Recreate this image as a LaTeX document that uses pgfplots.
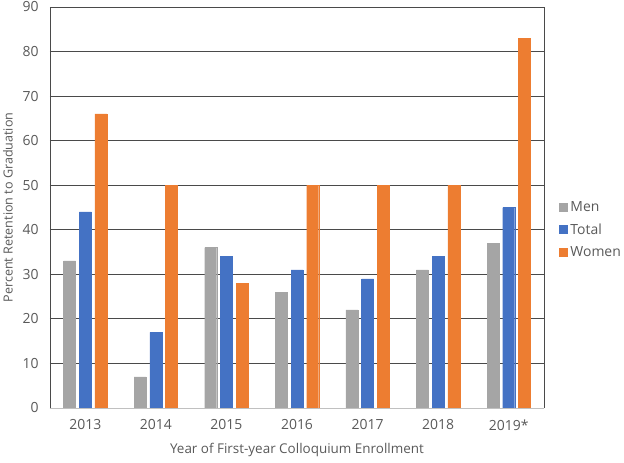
\documentclass[border=0pt]{standalone}
\usepackage{pgfplots}
\pgfplotsset{compat=1.18}
\usepackage{fontspec}
\setmainfont{Open Sans}
\definecolor{cmen}{HTML}{A5A5A5}
\definecolor{ctot}{HTML}{4472C4}
\definecolor{cwom}{HTML}{ED7D31}
\definecolor{ctxt}{HTML}{595959}
\definecolor{cgrid}{HTML}{4A4A4A}
\begin{document}
\begin{tikzpicture}
\begin{axis}[
  at={(0,0)}, anchor=south west,
  scale only axis, width=494bp, height=401bp,
  ybar=3.7bp, bar width=12bp,
  xmin=-0.5, xmax=6.5, ymin=0, ymax=90,
  xtick=data, xticklabels={2013,2014,2015,2016,2017,2018,2019*},
  ytick={0,10,...,90},
  major tick length=0pt,
  ymajorgrids, grid style={cgrid, line width=0.9pt},
  axis line style={draw=none},
  tick label style={font=\fontsize{14}{16}\selectfont, text=ctxt},
  /pgf/number format/assume math mode=true,
  yticklabel style={xshift=-8bp},
  xticklabel style={yshift=-8bp},
  xlabel={Year of First-year Colloquium Enrollment},
  ylabel={Percent Retention to Graduation},
  xlabel style={font=\fontsize{13.5}{15}\selectfont, text=ctxt, yshift=-6bp},
  ylabel style={font=\fontsize{12.6}{14}\selectfont, text=ctxt, yshift=3bp},
  legend style={draw=none, at={(1.024,0.445)}, anchor=west, font=\fontsize{14}{16}\selectfont, text=ctxt, row sep=7bp, fill=none},
  legend cell align=left,
  legend image code/.code={\fill[#1] (0bp,-4bp) rectangle (8bp,4bp); \path (9bp,0bp);},
  clip=false,
]
\addplot[fill=cmen, draw=cmen] coordinates {(0,33) (1,7) (2,36) (3,26) (4,22) (5,31) (6,37)};
\addplot[fill=ctot, draw=ctot] coordinates {(0,44) (1,17) (2,34) (3,31) (4,29) (5,34) (6,45)};
\addplot[fill=cwom, draw=cwom] coordinates {(0,66) (1,50) (2,28) (3,50) (4,50) (5,50) (6,83)};
\legend{Men,Total,Women}
\draw[cgrid, line width=0.9pt] (rel axis cs:0,0) -- (rel axis cs:0,1);
\draw[cgrid, line width=0.9pt] (rel axis cs:1,0) -- (rel axis cs:1,1);
\draw[cmen!70, line width=0.9pt] (rel axis cs:0,0) -- (rel axis cs:1,0);
\end{axis}
\pgfresetboundingbox
\useasboundingbox (-50bp,-55bp) rectangle (574bp,408bp);
\end{tikzpicture}
\end{document}
